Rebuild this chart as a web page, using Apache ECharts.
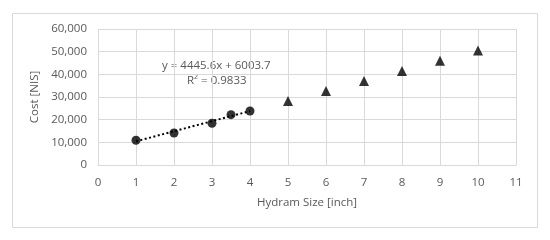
<!DOCTYPE html>
<html>
<head>
<meta charset="utf-8">
<script src="https://cdn.jsdelivr.net/npm/echarts@6/dist/echarts.min.js"></script>
<style>
  html, body { margin: 0; padding: 0; background: #fff; }
  #chart { width: 550px; height: 240px; }
</style>
</head>
<body>
<div id="chart"></div>
<script>
const measuredX = [1, 2, 3, 3.5, 4];
const measuredCost = [10900, 14100, 18400, 22200, 23800];
const projectedX = [5, 6, 7, 8, 9, 10];
const projectedCost = [28200, 32700, 37100, 41500, 46000, 50500];
const trendX = [1, 4];
const trendCost = [10449, 23786];
const trendLabel = ["y = 4445.6x + 6003.7", "R\u00b2 = 0.9833"];

const chartDom = document.getElementById("chart");
const myChart = echarts.init(chartDom);
const font = "'Open Sans', sans-serif";
const fs = 11.5;
const gray = "#595959";
const gridColor = "#d9d9d9";

const pairs = (xs, ys) => xs.map((x, i) => [x, ys[i]]);

const option = {
  animation: false,
  textStyle: { fontFamily: font },
  graphic: [
    {
      type: "rect",
      shape: { x: 12.5, y: 13.5, width: 525, height: 214 },
      style: { fill: "none", stroke: gridColor, lineWidth: 1 }
    },
    {
      type: "text",
      left: 162,
      top: 60,
      style: { text: trendLabel[0], fill: gray, font: fs + "px " + font }
    },
    {
      type: "text",
      left: 187,
      top: 75,
      style: { text: trendLabel[1], fill: gray, font: fs + "px " + font }
    }
  ],
  grid: { left: 98, right: 34, top: 29, bottom: 75 },
  xAxis: {
    type: "value",
    min: 0,
    max: 11,
    interval: 1,
    name: "Hydram Size [inch]",
    nameLocation: "middle",
    nameGap: 32,
    nameTextStyle: { color: gray, fontSize: fs },
    axisLine: { show: true, lineStyle: { color: gridColor } },
    axisTick: { show: false },
    axisLabel: { color: gray, fontSize: fs, margin: 12 },
    splitLine: { show: true, lineStyle: { color: gridColor } }
  },
  yAxis: {
    type: "value",
    min: 0,
    max: 60000,
    interval: 10000,
    name: "Cost [NIS]",
    nameLocation: "middle",
    nameGap: 51,
    nameTextStyle: { color: gray, fontSize: fs },
    axisLine: { show: false },
    axisTick: { show: false },
    axisLabel: {
      color: gray,
      fontSize: fs,
      margin: 11,
      formatter: v => v.toLocaleString("en-US")
    },
    splitLine: { show: true, lineStyle: { color: gridColor } }
  },
  series: [
    {
      name: "Trend",
      type: "line",
      data: pairs(trendX, trendCost),
      symbol: "none",
      lineStyle: { color: "#000", width: 2, type: [2, 2.5] },
      z: 2
    },
    {
      name: "Measured",
      type: "scatter",
      data: pairs(measuredX, measuredCost),
      symbol: "circle",
      symbolSize: 9,
      itemStyle: { color: "#000" },
      z: 3
    },
    {
      name: "Projected",
      type: "scatter",
      data: pairs(projectedX, projectedCost),
      symbol: "triangle",
      symbolSize: 10,
      itemStyle: { color: "#000" },
      z: 3
    }
  ]
};

option && myChart.setOption(option);
</script>
</body>
</html>
